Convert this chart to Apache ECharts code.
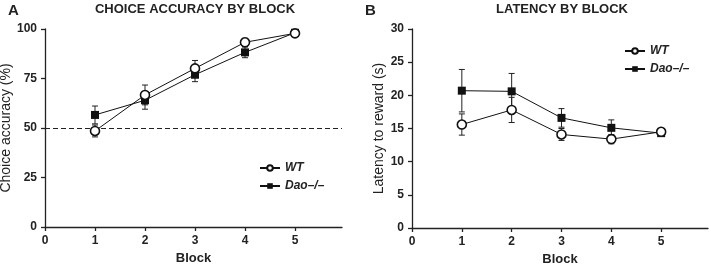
<!DOCTYPE html>
<html>
<head>
<meta charset="utf-8">
<script src="https://cdn.jsdelivr.net/npm/echarts@6/dist/echarts.min.js"></script>
<style>
  html, body { margin: 0; padding: 0; background: #fff; }
  #main { width: 709px; height: 265px; }
</style>
</head>
<body>
<div id="main"></div>
<script>
  // block numbers on x
  const blocks = [1, 2, 3, 4, 5]
  const xTicks = [0, 1, 2, 3, 4, 5]

  // panel A: choice accuracy (%)
  const accWT = [48.5, 66.7, 80.1, 93.3, 97.8]
  const accWTErr = [3, 5, 4, 2, 1]
  const accDao = [56.6, 64, 76.9, 88.2, 98.1]
  const accDaoErr = [4.5, 4.5, 3.5, 2.7, 1]
  const chance = 50

  // panel B: latency to reward (s)
  const latWT = [15.6, 17.8, 14.1, 13.4, 14.5]
  const latWTErr = [1.6, 1.9, 0.9, 0.7, 0.4]
  const latDao = [20.7, 20.6, 16.6, 15.1, 14.3]
  const latDaoErr = [3.2, 2.7, 1.4, 1.2, 0.4]

  const FONT = 'Liberation Sans, Arial, sans-serif'

  function pts(vals) {
    return blocks.map((b, i) => [b, vals[i]])
  }
  function errs(vals, e) {
    return blocks.map((b, i) => [b, vals[i] - e[i], vals[i] + e[i]])
  }

  function errorBar(params, api) {
    const x = api.value(0)
    const lo = api.coord([x, api.value(1)])
    const hi = api.coord([x, api.value(2)])
    const w = 3
    const st = { stroke: '#222', lineWidth: 1 }
    return {
      type: 'group',
      children: [
        { type: 'line', shape: { x1: lo[0], y1: lo[1], x2: hi[0], y2: hi[1] }, style: st },
        { type: 'line', shape: { x1: lo[0] - w, y1: lo[1], x2: lo[0] + w, y2: lo[1] }, style: st },
        { type: 'line', shape: { x1: hi[0] - w, y1: hi[1], x2: hi[0] + w, y2: hi[1] }, style: st }
      ]
    }
  }

  function wtSeries(idx, vals) {
    return {
      name: 'WT', type: 'line', xAxisIndex: idx, yAxisIndex: idx,
      data: pts(vals), symbol: 'circle', symbolSize: 9, z: 5,
      lineStyle: { color: '#111', width: 1 },
      itemStyle: { color: '#fff', borderColor: '#111', borderWidth: 1.6 }
    }
  }
  function daoSeries(idx, vals) {
    return {
      name: 'Dao–/–', type: 'line', xAxisIndex: idx, yAxisIndex: idx,
      data: pts(vals), symbol: 'rect', symbolSize: 8, z: 4,
      lineStyle: { color: '#111', width: 1 },
      itemStyle: { color: '#111', borderColor: '#111', borderWidth: 0 }
    }
  }
  function errSeries(idx, vals, e) {
    return {
      type: 'custom', xAxisIndex: idx, yAxisIndex: idx, z: 3,
      renderItem: errorBar, encode: { x: 0, y: [1, 2] }, silent: true,
      data: errs(vals, e)
    }
  }

  function xAxis(idx) {
    return {
      type: 'value', gridIndex: idx, min: 0, max: 5.94, interval: 1,
      name: 'Block', nameLocation: 'middle', nameGap: 24,
      nameTextStyle: { fontFamily: FONT, fontWeight: 'bold', fontSize: 13, color: '#222' },
      axisLine: { lineStyle: { color: '#222', width: 1.3 } },
      axisTick: { length: 4, lineStyle: { color: '#222', width: 1.3 }, customValues: xTicks },
      axisLabel: { fontFamily: FONT, fontWeight: 'bold', fontSize: 12, color: '#222', margin: 8, customValues: xTicks },
      splitLine: { show: false }
    }
  }
  function yAxis(idx, max, interval, name, gap) {
    return {
      type: 'value', gridIndex: idx, min: 0, max: max, interval: interval,
      name: name, nameLocation: 'middle', nameGap: gap,
      nameTextStyle: { fontFamily: FONT, fontSize: 14, color: '#222' },
      axisLine: { show: true, lineStyle: { color: '#222', width: 1.3 } },
      axisTick: { show: true, length: 4, lineStyle: { color: '#222', width: 1.3 } },
      axisLabel: { fontFamily: FONT, fontWeight: 'bold', fontSize: 12, color: '#222', margin: 8 },
      splitLine: { show: false }
    }
  }

  const titleStyle = { fontFamily: FONT, fontWeight: 'bold', fontSize: 13, color: '#222' }
  const letterStyle = { fontFamily: FONT, fontWeight: 'bold', fontSize: 15, color: '#222' }
  const legendText = { fontFamily: FONT, fontWeight: 'bold', fontStyle: 'italic', fontSize: 12, color: '#222' }

  const option = {
    animation: false,
    title: [
      { text: 'A', left: 3, top: -2, textStyle: letterStyle },
      { text: 'CHOICE ACCURACY BY BLOCK', left: 190, top: -2, textAlign: 'center', textStyle: titleStyle },
      { text: 'B', left: 360, top: -2, textStyle: letterStyle },
      { text: 'LATENCY BY BLOCK', left: 557, top: -2, textAlign: 'center', textStyle: titleStyle }
    ],
    legend: [
      {
        left: 254, top: 157, orient: 'vertical', itemGap: 6,
        itemWidth: 20, itemHeight: 7, data: ['WT', 'Dao–/–'], textStyle: legendText,
        selectedMode: false
      },
      {
        left: 619, top: 40, orient: 'vertical', itemGap: 6,
        itemWidth: 20, itemHeight: 7, data: ['WT', 'Dao–/–'], textStyle: legendText,
        selectedMode: false
      }
    ],
    grid: [
      { left: 45, top: 29, width: 297, height: 198, outerBoundsMode: 'none', containLabel: false },
      { left: 412, top: 29, width: 296, height: 199, outerBoundsMode: 'none', containLabel: false }
    ],
    xAxis: [xAxis(0), xAxis(1)],
    yAxis: [
      yAxis(0, 100, 25, 'Choice accuracy (%)', 30),
      yAxis(1, 30, 5, 'Latency to reward (s)', 26)
    ],
    series: [
      errSeries(0, accWT, accWTErr),
      errSeries(0, accDao, accDaoErr),
      Object.assign(wtSeries(0, accWT), {
        markLine: {
          silent: true, symbol: 'none', label: { show: false },
          lineStyle: { color: '#222', type: [5, 3], width: 1.2 },
          data: [{ yAxis: chance }]
        }
      }),
      daoSeries(0, accDao),
      errSeries(1, latWT, latWTErr),
      errSeries(1, latDao, latDaoErr),
      wtSeries(1, latWT),
      daoSeries(1, latDao)
    ]
  }

  const chart = echarts.init(document.getElementById('main'))
  chart.setOption(option)
</script>
</body>
</html>
